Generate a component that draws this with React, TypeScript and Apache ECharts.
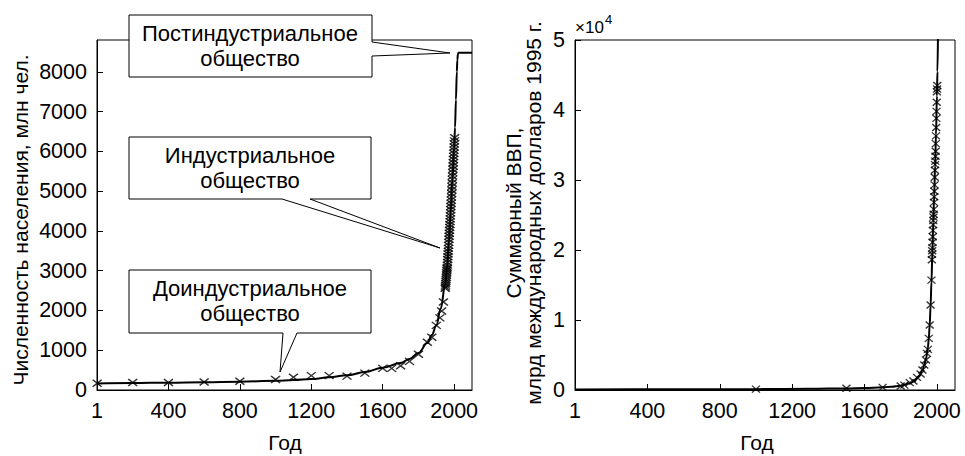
import { useEffect, useRef } from 'react';
import * as echarts from 'echarts';

// ---- tick labels ----
const xTickValues = [0, 400, 800, 1200, 1600, 2000];
const xTickLabels = ['1', '400', '800', '1200', '1600', '2000'];

// ---- population (mln), observations ----
const popYears = [
  1, 200, 400, 600, 800, 1000, 1100, 1200, 1300, 1400, 1500, 1600, 1650, 1700, 1750, 1800,
  1850, 1875, 1900, 1920, 1930, 1940,
  1950, 1951, 1952, 1953, 1954, 1955, 1956, 1957, 1958, 1959,
  1960, 1961, 1962, 1963, 1964, 1965, 1966, 1967, 1968, 1969,
  1970, 1971, 1972, 1973, 1974, 1975, 1976, 1977, 1978, 1979,
  1980, 1981, 1982, 1983, 1984, 1985, 1986, 1987, 1988, 1989,
  1990, 1991, 1992, 1993, 1994, 1995, 1996, 1997, 1998, 1999,
  2000, 2001, 2002, 2003,
];
const popValues = [
  170, 190, 190, 200, 220, 265, 320, 360, 360, 350, 425, 545, 545, 610, 720, 900,
  1200, 1325, 1625, 1813, 1987, 2213,
  2557, 2594, 2636, 2682, 2730, 2782, 2835, 2891, 2948, 3001,
  3043, 3084, 3140, 3210, 3281, 3350, 3421, 3490, 3562, 3637,
  3713, 3790, 3867, 3942, 4017, 4089, 4160, 4232, 4304, 4379,
  4455, 4533, 4614, 4695, 4775, 4856, 4941, 5029, 5117, 5205,
  5295, 5381, 5465, 5549, 5631, 5713, 5794, 5873, 5953, 6032,
  6110, 6188, 6265, 6342,
];

// ---- population model curve ----
const popModelYears = [
  1, 200, 400, 600, 800, 1000, 1100, 1200, 1300, 1400, 1500, 1600, 1700, 1750, 1800,
  1850, 1875, 1900, 1925, 1950, 1960, 1970, 1980, 1990, 2000, 2005, 2010, 2015, 2018,
  2021, 2025, 2100,
];
const popModelValues = [
  165, 175, 185, 195, 210, 230, 250, 275, 320, 370, 450, 560, 680, 780, 930,
  1180, 1380, 1620, 2050, 2650, 3050, 3700, 4450, 5300, 6100, 6600, 7300, 8000, 8300,
  8450, 8480, 8480,
];

// ---- world GDP (bln intl $ 1995), observations ----
const gdpYears = [
  1000, 1500, 1700, 1800, 1820, 1850, 1870, 1890, 1910, 1920, 1930, 1940, 1945,
  1950, 1955, 1960, 1965, 1970,
  1972, 1973, 1974, 1975, 1976, 1977, 1978, 1979, 1980, 1981, 1982, 1983, 1984,
  1985, 1986, 1987, 1988, 1989, 1990, 1991, 1992, 1993, 1994, 1995, 1996, 1997,
  1998, 1999, 2000, 2001, 2002,
];
const gdpValues = [
  120, 250, 370, 570, 700, 1050, 1290, 1810, 2290, 2860, 3570, 4290, 5240,
  5810, 7380, 9290, 12140, 15700,
  18600, 19400, 19900, 20300, 21100, 21900, 22800, 23600, 24200, 24700, 25100, 25800, 26800,
  27600, 28400, 29300, 30400, 31400, 32200, 32700, 33400, 34100, 35200, 36300, 37500, 38800,
  39800, 41100, 42600, 43000, 43500,
];

// ---- GDP model curve ----
const gdpModelYears = [
  1, 500, 1000, 1300, 1500, 1600, 1700, 1750, 1800, 1850, 1875, 1900, 1920, 1930,
  1940, 1950, 1955, 1960, 1965, 1970, 1975, 1980, 1985, 1990, 1995, 2000, 2003, 2006,
];
const gdpModelValues = [
  80, 95, 120, 170, 230, 290, 380, 460, 600, 950, 1250, 1900, 2800, 3500,
  4500, 6000, 7300, 9200, 12000, 15500, 19800, 24000, 27800, 32000, 36500, 42000, 45500, 51000,
];

// ---- texts ----
const popAxisTitle = 'Численность населения, млн чел.';
const gdpAxisTitle = 'Суммарный ВВП,\nмлрд международных долларов 1995 г.';
const xAxisTitle = 'Год';
const callouts = ['Постиндустриальное\nобщество', 'Индустриальное\nобщество', 'Доиндустриальное\nобщество'];

const FONT = '"Liberation Sans", Arial, Helvetica, sans-serif';
const CROSS = 'path://M0,0L10,10M10,0L0,10';
const TICK_FONT = 21.5;

const zip = (xs: number[], ys: number[]) => xs.map((x, i) => [x, ys[i]]);

function xAxisCfg(gridIndex: number) {
  return {
    gridIndex,
    type: 'value',
    min: 0,
    max: 2100,
    interval: 400,
    axisLine: { show: true, lineStyle: { color: '#000', width: 1 } },
    axisTick: { show: true, inside: true, length: 6, lineStyle: { color: '#000' } },
    axisLabel: {
      color: '#000',
      fontSize: TICK_FONT,
      fontFamily: FONT,
      margin: 10,
      showMaxLabel: false,
      formatter: (v: number) => {
        const i = xTickValues.indexOf(v);
        return i >= 0 ? xTickLabels[i] : '';
      },
    },
    splitLine: { show: false },
  };
}

export default function App() {
  const ref = useRef<HTMLDivElement>(null);

  useEffect(() => {
    if (!ref.current) return;
    const chart = echarts.init(ref.current, undefined, { renderer: 'svg' });

    const textStyle = (text: string, extra: any = {}) => ({
      text,
      fontSize: 21,
      fontFamily: FONT,
      fill: '#000',
      align: 'center',
      verticalAlign: 'middle',
      lineHeight: 25,
      ...extra,
    });

    const boxStyle = { fill: '#fff', stroke: '#000', lineWidth: 1 };

    chart.setOption({
      animation: false,
      backgroundColor: '#fff',
      grid: [
        { left: 97, top: 40, width: 375, height: 350, show: true, borderColor: '#000', borderWidth: 1, backgroundColor: 'transparent' },
        { left: 575, top: 40, width: 380, height: 350, show: true, borderColor: '#000', borderWidth: 1, backgroundColor: 'transparent' },
      ],
      xAxis: [xAxisCfg(0), xAxisCfg(1)],
      yAxis: [
        {
          gridIndex: 0,
          type: 'value',
          min: 0,
          max: 8800,
          interval: 1000,
          axisLine: { show: true, lineStyle: { color: '#000', width: 1 } },
          axisTick: { show: true, inside: true, length: 6, lineStyle: { color: '#000' } },
          axisLabel: {
            color: '#000',
            fontSize: TICK_FONT,
            fontFamily: FONT,
            margin: 10,
            showMaxLabel: false,
            formatter: (v: number) => String(v),
          },
          splitLine: { show: false },
        },
        {
          gridIndex: 1,
          type: 'value',
          min: 0,
          max: 50000,
          interval: 10000,
          axisLine: { show: true, lineStyle: { color: '#000', width: 1 } },
          axisTick: { show: true, inside: true, length: 6, lineStyle: { color: '#000' } },
          axisLabel: {
            color: '#000',
            fontSize: TICK_FONT,
            fontFamily: FONT,
            margin: 10,
            formatter: (v: number) => String(v / 10000),
          },
          splitLine: { show: false },
        },
      ],
      series: [
        {
          type: 'line',
          xAxisIndex: 0,
          yAxisIndex: 0,
          data: zip(popModelYears, popModelValues),
          showSymbol: false,
          smooth: 0.4,
          smoothMonotone: 'x',
          lineStyle: { color: '#000', width: 2 },
          z: 2,
        },
        {
          type: 'scatter',
          xAxisIndex: 0,
          yAxisIndex: 0,
          data: zip(popYears, popValues),
          symbol: CROSS,
          symbolSize: [9, 7],
          itemStyle: { color: 'transparent', borderColor: '#000', borderWidth: 1.4 },
          z: 3,
        },
        {
          type: 'line',
          xAxisIndex: 1,
          yAxisIndex: 1,
          data: zip(gdpModelYears, gdpModelValues),
          showSymbol: false,
          smooth: 0.4,
          smoothMonotone: 'x',
          lineStyle: { color: '#000', width: 2 },
          z: 2,
        },
        {
          type: 'scatter',
          xAxisIndex: 1,
          yAxisIndex: 1,
          data: zip(gdpYears, gdpValues),
          symbol: CROSS,
          symbolSize: [8, 7],
          itemStyle: { color: 'transparent', borderColor: '#000', borderWidth: 1.3 },
          z: 3,
        },
      ],
      graphic: [
        // callout boxes with tails
        {
          type: 'polygon',
          z: 100,
          shape: { points: [[129, 15], [372, 15], [372, 42], [450, 53], [372, 56], [372, 77], [129, 77]] },
          style: boxStyle,
        },
        {
          type: 'polygon',
          z: 100,
          shape: { points: [[129, 137], [371, 137], [371, 199], [310, 199], [440, 248], [282, 199], [129, 199]] },
          style: boxStyle,
        },
        {
          type: 'polygon',
          z: 100,
          shape: { points: [[129, 270], [371, 270], [371, 333], [297, 333], [280, 372], [283, 333], [129, 333]] },
          style: boxStyle,
        },
        { type: 'text', z: 101, x: 250, y: 46, style: textStyle(callouts[0], { fontSize: 22 }) },
        { type: 'text', z: 101, x: 250, y: 168, style: textStyle(callouts[1], { fontSize: 22 }) },
        { type: 'text', z: 101, x: 250, y: 301, style: textStyle(callouts[2], { fontSize: 22 }) },
        // axis titles
        { type: 'text', z: 101, x: 20, y: 220, rotation: Math.PI / 2, style: textStyle(popAxisTitle) },
        { type: 'text', z: 101, x: 523, y: 213, rotation: Math.PI / 2, style: textStyle(gdpAxisTitle, { lineHeight: 20 }) },
        { type: 'text', z: 101, x: 285, y: 442, style: textStyle(xAxisTitle) },
        { type: 'text', z: 101, x: 757, y: 442, style: textStyle(xAxisTitle) },
        // exponent
        { type: 'text', z: 101, x: 575, y: 27, style: textStyle('×10', { align: 'left', fontSize: 17, lineHeight: 17 }) },
        { type: 'text', z: 101, x: 605, y: 19, style: textStyle('4', { align: 'left', fontSize: 13, lineHeight: 13 }) },
      ],
    });

    return () => chart.dispose();
  }, []);

  return (
    <div
      ref={ref}
      style={{ position: 'fixed', left: 0, top: 0, width: 965, height: 456, background: '#fff' }}
    />
  );
}
